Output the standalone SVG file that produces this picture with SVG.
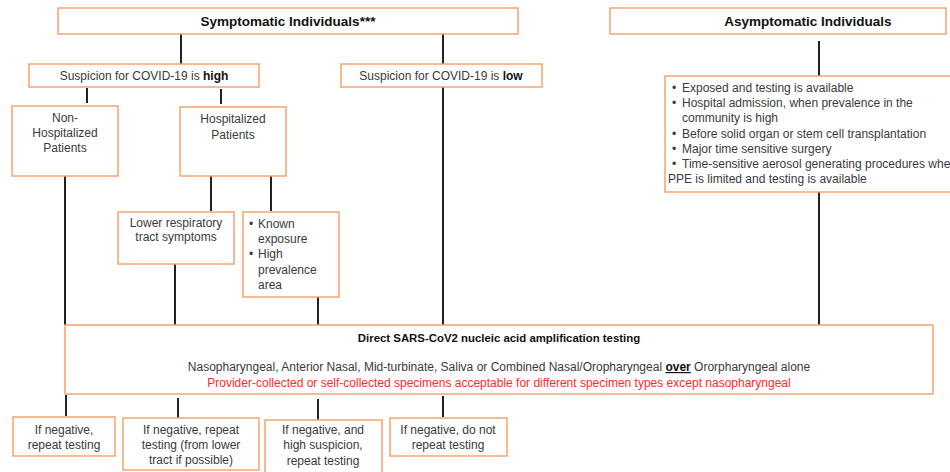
<svg xmlns="http://www.w3.org/2000/svg" width="950" height="472" viewBox="0 0 950 472">
<style>
.box{fill:#fff;stroke:#F7A46E;stroke-width:1.5}
.t{font-family:"Liberation Sans",Arial,sans-serif;font-size:12px;fill:#3a3a3a}
.c{text-anchor:middle}
.h{font-family:"Liberation Sans",Arial,sans-serif;font-size:13.5px;font-weight:bold;fill:#111;text-anchor:middle}
.b{font-weight:bold;fill:#111}
.red{fill:#FF2B2B}
.ln{stroke:#222;stroke-width:2;fill:none}
</style>
<rect width="950" height="472" fill="#fff"/>
<g id="connectors">
<path class="ln" d="M181 34V64M443 34V64M87 88V103M221 89V104M65 176V325M211 176V211M271 176V211M443 87V325M819 41V76M819 192V325M175 264V325M318 297V325M66 395V416M178 398V418M318 399V420M443 396V417"/>
</g>
<g id="symptomatic"><rect class="box" x="58" y="8" width="460" height="26"/><text class="h" x="288" y="26">Symptomatic Individuals***</text></g>
<g id="asymptomatic"><rect class="box" x="610" y="8" width="336" height="26"/><text class="h" x="808" y="26">Asymptomatic Individuals</text></g>
<g id="high"><rect class="box" x="29" y="64" width="230" height="23"/><text class="t c" x="144" y="80">Suspicion for COVID-19 is <tspan class="b">high</tspan></text></g>
<g id="low"><rect class="box" x="341" y="64" width="201" height="23"/><text class="t c" x="441" y="80">Suspicion for COVID-19 is <tspan class="b">low</tspan></text></g>
<g id="nonhosp"><rect class="box" x="12" y="106" width="106" height="70"/><text class="t c" x="65" y="122">Non-</text><text class="t c" x="65" y="137">Hospitalized</text><text class="t c" x="65" y="152">Patients</text></g>
<g id="hosp"><rect class="box" x="180" y="107" width="106" height="69"/><text class="t c" x="233" y="123">Hospitalized</text><text class="t c" x="233" y="139">Patients</text></g>
<g id="asymlist"><rect class="box" x="665" y="76" width="300" height="116"/>
<text class="t" x="672" y="92">•</text><text class="t" x="682" y="92">Exposed and testing is available</text>
<text class="t" x="672" y="107">•</text><text class="t" x="682" y="107">Hospital admission, when prevalence in the</text>
<text class="t" x="682" y="122">community is high</text>
<text class="t" x="672" y="138">•</text><text class="t" x="682" y="138">Before solid organ or stem cell transplantation</text>
<text class="t" x="672" y="153">•</text><text class="t" x="682" y="153">Major time sensitive surgery</text>
<text class="t" x="672" y="168">•</text><text class="t" x="682" y="168">Time-sensitive aerosol generating procedures when</text>
<text class="t" x="668" y="183">PPE is limited and testing is available</text>
</g>
<g id="lower"><rect class="box" x="118" y="212" width="116" height="52"/><text class="t c" x="176" y="227">Lower respiratory</text><text class="t c" x="176" y="241">tract symptoms</text></g>
<g id="known"><rect class="box" x="243" y="212" width="96" height="85"/>
<text class="t" x="249" y="228">•</text><text class="t" x="258" y="228">Known</text><text class="t" x="258" y="243">exposure</text>
<text class="t" x="249" y="258">•</text><text class="t" x="258" y="258">High</text><text class="t" x="258" y="274">prevalence</text><text class="t" x="258" y="289">area</text></g>
<g id="naat"><rect class="box" x="65" y="325" width="868" height="69"/>
<text class="t c b" x="499" y="342" style="font-size:11.4px">Direct SARS-CoV2 nucleic acid amplification testing</text>
<text class="t c" x="499" y="371">Nasopharyngeal, Anterior Nasal, Mid-turbinate, Saliva or Combined Nasal/Oropharyngeal <tspan class="b" text-decoration="underline">over</tspan> Ororpharyngeal alone</text>
<text class="t c red" x="499" y="387">Provider-collected or self-collected specimens acceptable for different specimen types except nasopharyngeal</text>
</g>
<g id="out1"><rect class="box" x="13" y="417" width="102" height="39"/><text class="t c" x="64" y="434">If negative,</text><text class="t c" x="64" y="449">repeat testing</text></g>
<g id="out2"><rect class="box" x="123" y="418" width="136" height="52"/><text class="t c" x="191" y="434">If negative, repeat</text><text class="t c" x="191" y="449">testing (from lower</text><text class="t c" x="191" y="464">tract if possible)</text></g>
<g id="out3"><rect class="box" x="265" y="420" width="117" height="56"/><text class="t c" x="323" y="434">If negative, and</text><text class="t c" x="323" y="449">high suspicion,</text><text class="t c" x="323" y="465">repeat testing</text></g>
<g id="out4"><rect class="box" x="390" y="418" width="117" height="38"/><text class="t c" x="448" y="434">If negative, do not</text><text class="t c" x="448" y="449">repeat testing</text></g>
</svg>
